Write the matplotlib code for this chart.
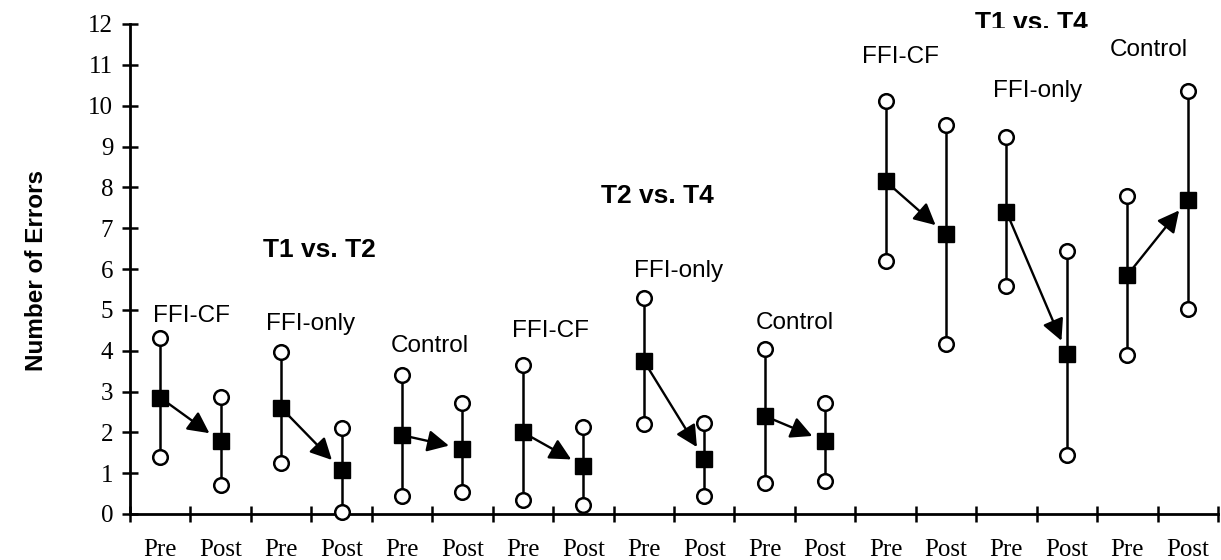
import matplotlib
matplotlib.use("Agg")
import matplotlib.pyplot as plt
from matplotlib.patches import Rectangle

# ---- data ----
categories = ["Pre", "Post"] * 9
groups = ["FFI-CF", "FFI-only", "Control"] * 3
comparisons = ["T1 vs. T2", "T2 vs. T4", "T1 vs. T4"]

pre_mean = [2.85, 2.60, 1.93, 2.00, 3.75, 2.40, 8.15, 7.40, 5.85]
pre_high = [4.30, 3.97, 3.40, 3.65, 5.30, 4.05, 10.12, 9.23, 7.80]
pre_low = [1.40, 1.25, 0.45, 0.35, 2.20, 0.75, 6.20, 5.58, 3.90]
post_mean = [1.78, 1.08, 1.60, 1.17, 1.35, 1.78, 6.85, 3.93, 7.70]
post_high = [2.87, 2.10, 2.72, 2.12, 2.23, 2.73, 9.53, 6.43, 10.37]
post_low = [0.70, 0.05, 0.53, 0.22, 0.45, 0.82, 4.17, 1.45, 5.03]

yticks = list(range(0, 13))

# ---- figure ----
fig = plt.figure(figsize=(12.21, 5.6), dpi=100)
ax = fig.add_axes([130 / 1221, 1 - 514 / 560, (1218 - 130) / 1221, (514 - 24) / 560])

sans = "Liberation Sans"
serif = "Liberation Serif"

for g in range(9):
    xp, xq = 2 * g, 2 * g + 1
    for x, lo, m, hi in [(xp, pre_low[g], pre_mean[g], pre_high[g]),
                         (xq, post_low[g], post_mean[g], post_high[g])]:
        ax.plot([x, x], [lo, hi], color="black", lw=1.8, zorder=2, clip_on=False)
        ax.plot([x, x], [lo, hi], linestyle="none", marker="o", ms=10.5,
                mfc="white", mec="black", mew=1.8, zorder=3, clip_on=False)
        ax.plot([x], [m], linestyle="none", marker="s", ms=12,
                mfc="black", mec="black", zorder=4, clip_on=False)
    ax.annotate("", xy=(xq, post_mean[g]), xytext=(xp, pre_mean[g]),
                arrowprops=dict(arrowstyle="-|>,head_length=0.65,head_width=0.33",
                                mutation_scale=20, color="black", lw=1.7,
                                shrinkA=0, shrinkB=10), zorder=5)

# group labels (x, baseline y)
label_pos = [(0.51, 4.70), (2.49, 4.51), (4.46, 3.97),
             (6.45, 4.33), (8.57, 5.80), (10.5, 4.53),
             (12.24, 11.05), (14.52, 10.21), (16.36, 11.22)]
for name, (x, y) in zip(groups, label_pos):
    ax.text(x, y, name, ha="center", va="baseline", fontsize=17.5,
            family=sans, clip_on=False)

comp_pos = [(2.63, 6.29), (8.22, 7.62), (14.42, 11.85)]
for i, (name, (x, y)) in enumerate(zip(comparisons, comp_pos)):
    t = ax.text(x, y, name, ha="center", va="baseline", fontsize=19,
                family=sans, fontweight="bold", clip_on=False)
    if i == 2:
        rect = Rectangle((0, 1 - 27.5 / 560), 1, 27.5 / 560,
                         transform=fig.transFigure, fill=False)
        t.set_clip_path(rect)
        t.set_clip_on(True)

ax.set_xlim(-0.5, 17.5)
ax.set_ylim(0, 12)
ax.set_yticks(yticks)
ax.set_yticklabels([str(v) for v in yticks], family=serif, fontsize=18)
ax.set_xticks(range(18))
ax.set_xticklabels(categories, family=serif, fontsize=18)
ax.set_xticks([i - 0.5 for i in range(19)], minor=True)

ax.tick_params(axis="x", which="major", length=0, pad=18)
ax.tick_params(axis="x", which="minor", direction="inout", length=12, width=1.8)
ax.tick_params(axis="y", which="major", direction="inout", length=12, width=1.8, pad=6)

for s in ["top", "right"]:
    ax.spines[s].set_visible(False)
for s in ["left", "bottom"]:
    ax.spines[s].set_linewidth(2)

fig.text(37 / 1221, 1 - 270 / 560, "Number of Errors", rotation=90,
         ha="center", va="center", fontsize=17.5, fontweight="bold", family=sans)

fig.savefig("out.png", dpi=100)
